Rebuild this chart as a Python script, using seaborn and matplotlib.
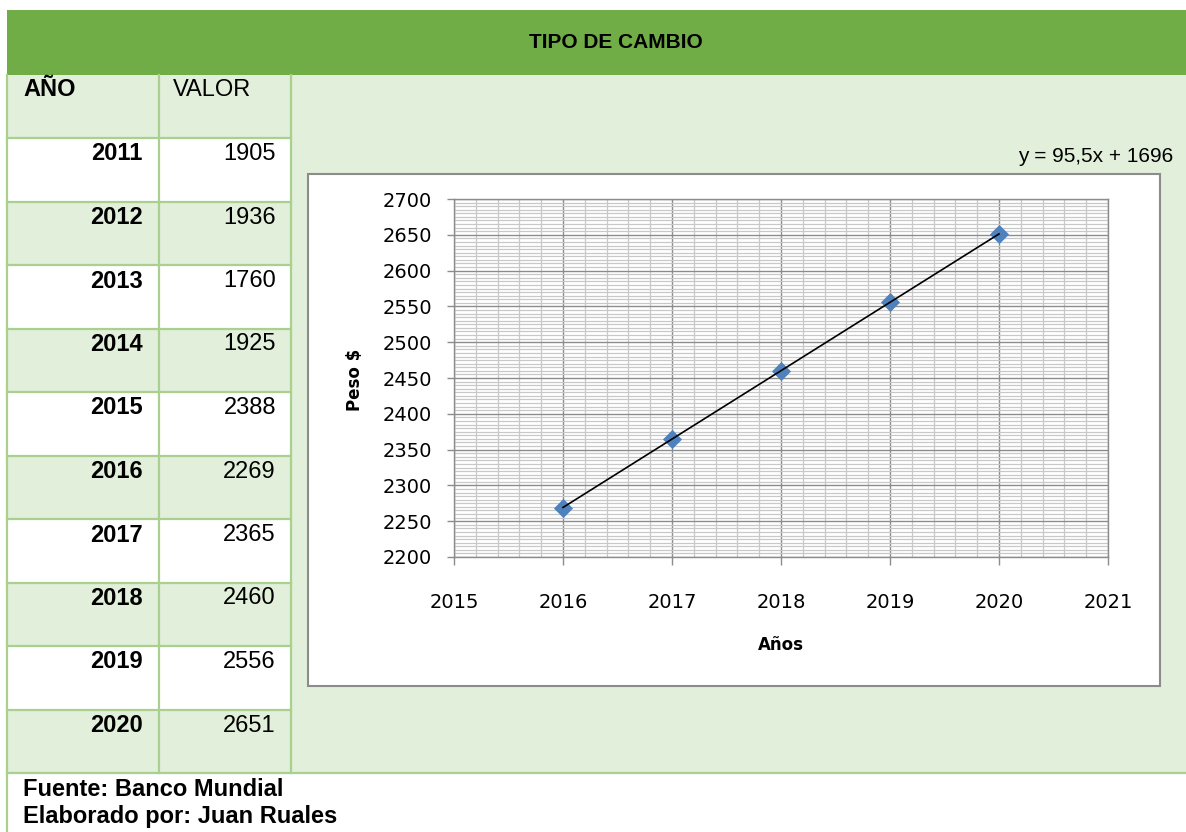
import numpy as np
import pandas as pd
import seaborn as sns
import matplotlib.pyplot as plt
from matplotlib.patches import Rectangle
from matplotlib.ticker import MultipleLocator
from matplotlib import font_manager

years = [2011, 2012, 2013, 2014, 2015, 2016, 2017, 2018, 2019, 2020]
values = [1905, 1936, 1760, 1925, 2388, 2269, 2365, 2460, 2556, 2651]
chart_years = years[5:]
chart_values = values[5:]
x_ticks = [2015, 2016, 2017, 2018, 2019, 2020, 2021]
y_ticks = list(range(2200, 2701, 50))
title = "TIPO DE CAMBIO"
equation = "y = 95,5x + 1696"
footer = ["Fuente: Banco Mundial", "Elaborado por: Juan Ruales"]

GREEN = "#70AD47"
LIGHT = "#E2EFDA"
BORDER = "#A9D08E"
W, H = 1186, 832

names = {f.name for f in font_manager.fontManager.ttflist}
narrow = "Liberation Sans Narrow" if "Liberation Sans Narrow" in names else "Liberation Sans"
arial = "Liberation Sans"

fig = plt.figure(figsize=(W / 100, H / 100), dpi=100, facecolor="white")

# background sheet in pixel coords
bg = fig.add_axes([0, 0, 1, 1])
bg.set_xlim(0, W)
bg.set_ylim(H, 0)
bg.axis("off")

bg.add_patch(Rectangle((7, 10), W - 7, 65, color=GREEN, lw=0))
bg.add_patch(Rectangle((7, 75), W - 7, 698, color=LIGHT, lw=0))
bg.text(616, 43, title, ha="center", va="center", fontsize=15,
        fontweight="bold", family=arial)

row_h = 63.5
row0 = 138
for i, (yr, val) in enumerate(zip(years, values)):
    top = row0 + i * row_h
    if i % 2 == 0:
        bg.add_patch(Rectangle((7, top), 284, row_h, color="white", lw=0))
    bg.text(143, top + 16, str(yr), ha="right", va="center", fontsize=17,
            fontweight="bold", family=arial)
    bg.text(276, top + 16, str(val), ha="right", va="center", fontsize=17,
            family=arial)
    bg.plot([7, 291], [top, top], color=BORDER, lw=1.6)

bg.text(23, 90, "AÑO", ha="left", va="center", fontsize=17,
        fontweight="bold", family=arial)
bg.text(173, 90, "VALOR", ha="left", va="center", fontsize=17, family=arial)

for xv in [159, 291]:
    bg.plot([xv, xv], [75, 773], color=BORDER, lw=1.6)
bg.plot([7, 7], [75, H], color=BORDER, lw=1.6)
bg.plot([7, W], [773, 773], color=BORDER, lw=1.6)

bg.text(23, 789, footer[0], ha="left", va="center", fontsize=17,
        fontweight="bold", family=arial)
bg.text(23, 816, footer[1], ha="left", va="center", fontsize=17,
        fontweight="bold", family=arial)

# chart box
bg.add_patch(Rectangle((308, 174), 852, 512, facecolor="white",
                       edgecolor="#8C8C8C", lw=1.5))
bg.text(1173, 156, equation, ha="right", va="center", fontsize=15,
        family=narrow)
bg.text(355, 380, "Peso $", ha="center", va="center", rotation=90,
        fontsize=12, fontweight="bold", family="DejaVu Sans")
bg.text(781, 645, "Años", ha="center", va="center", fontsize=12,
        fontweight="bold", family="DejaVu Sans")

# plot area
ax = fig.add_axes([454 / W, 1 - 557 / H, 654 / W, 358 / H])
ax.set_facecolor("white")

df = pd.DataFrame({"year": chart_years, "value": chart_values})
sns.scatterplot(data=df, x="year", y="value", marker="D", s=95,
                color="#4F81BD", edgecolor="#4F81BD", linewidth=0,
                ax=ax, zorder=3)
sns.regplot(data=df, x="year", y="value", ci=None, scatter=False,
            line_kws={"color": "black", "lw": 1.2, "zorder": 4}, ax=ax)

ax.set_xlim(x_ticks[0], x_ticks[-1])
ax.set_ylim(y_ticks[0], y_ticks[-1])
ax.set_xticks(x_ticks)
ax.set_yticks(y_ticks)
ax.xaxis.set_minor_locator(MultipleLocator(0.2))
ax.yaxis.set_minor_locator(MultipleLocator(5))
ax.grid(which="minor", color="#C8C8C8", lw=0.9)
ax.grid(which="major", color="#8C8C8C", lw=1.0)
ax.set_axisbelow(True)
ax.tick_params(which="minor", length=0)
ax.tick_params(axis="x", which="major", length=6, width=1, color="#8C8C8C",
               pad=20, labelsize=14)
ax.tick_params(axis="y", which="major", length=5, width=1, color="#8C8C8C",
               pad=11, labelsize=14)
for lab in ax.get_xticklabels() + ax.get_yticklabels():
    lab.set_family("DejaVu Sans")
for sp in ax.spines.values():
    sp.set_color("#8C8C8C")
    sp.set_linewidth(1.0)
ax.set_xlabel("")
ax.set_ylabel("")

fig.savefig("out.png", dpi=100, facecolor="white")
